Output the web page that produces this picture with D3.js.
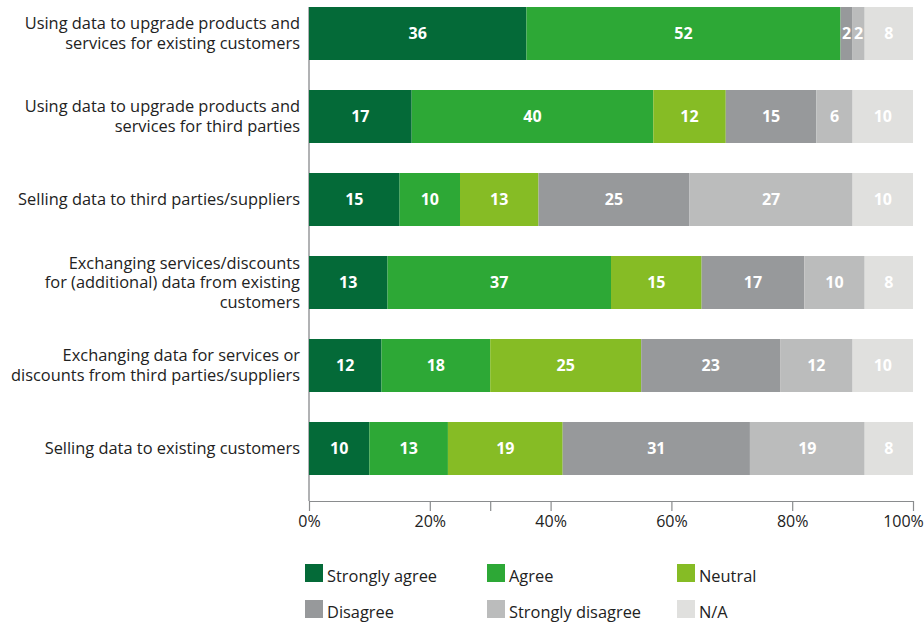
<!DOCTYPE html>
<html>
<head>
<meta charset="utf-8">
<script src="https://cdn.jsdelivr.net/npm/d3@7"></script>
<style>
  html, body { margin: 0; padding: 0; background: #fff; }
  svg { display: block; font-family: "Open Sans", "Noto Sans", sans-serif; }
</style>
</head>
<body>
<svg id="chart" width="924" height="623"></svg>
<script>
// Survey statements (one bar each), wrapped into display lines
const categories = [
  ["Using data to upgrade products and", "services for existing customers"],
  ["Using data to upgrade products and", "services for third parties"],
  ["Selling data to third parties/suppliers"],
  ["Exchanging services/discounts", "for (additional) data from existing", "customers"],
  ["Exchanging data for services or", "discounts from third parties/suppliers"],
  ["Selling data to existing customers"]
];

// Response shares in percent, one array per answer option (same order as categories)
const stronglyAgree    = [36, 17, 15, 13, 12, 10];
const agree            = [52, 40, 10, 37, 18, 13];
const neutral          = [ 0, 12, 13, 15, 25, 19];
const disagree         = [ 2, 15, 25, 17, 23, 31];
const stronglyDisagree = [ 2,  6, 27, 10, 12, 19];
const notApplicable    = [ 8, 10, 10,  8, 10,  8];

const seriesNames = ["Strongly agree", "Agree", "Neutral", "Disagree", "Strongly disagree", "N/A"];
const seriesColors = ["#046a38", "#2da836", "#86bc25", "#97999b", "#bbbcbc", "#e0e0de"];

// Axis ticks; the 30% tick carries no label
const tickValues = [0, 20, 30, 40, 60, 80, 100];
const tickLabels = ["0%", "20%", "", "40%", "60%", "80%", "100%"];

const seriesValues = [stronglyAgree, agree, neutral, disagree, stronglyDisagree, notApplicable];
const rows = categories.map((c, i) => {
  const row = { id: i };
  seriesNames.forEach((s, k) => { row[s] = seriesValues[k][i]; });
  return row;
});

const svg = d3.select("#chart");

const x = d3.scaleLinear().domain([0, 100]).range([309, 913]);
const y = d3.scaleBand()
  .domain(d3.range(categories.length))
  .range([7, 475])
  .paddingInner(30 / 83)
  .paddingOuter(0);

const color = d3.scaleOrdinal().domain(seriesNames).range(seriesColors);

const layers = d3.stack().keys(seriesNames)(rows);

// Vertical baseline at 0%
svg.append("line")
  .attr("x1", x(0)).attr("x2", x(0))
  .attr("y1", 7).attr("y2", 501)
  .attr("stroke", "#97999b").attr("stroke-width", 1.5);

// Stacked bars
const layerG = svg.append("g").selectAll("g")
  .data(layers)
  .join("g")
  .attr("fill", d => color(d.key));

layerG.selectAll("rect")
  .data(d => d.map((v, i) => ({ v, i, key: d.key })))
  .join("rect")
  .attr("x", d => x(d.v[0]))
  .attr("y", d => y(d.i))
  .attr("width", d => x(d.v[1]) - x(d.v[0]))
  .attr("height", y.bandwidth());

// Value labels inside segments
layerG.selectAll("text")
  .data(d => d.map((v, i) => ({ v, i, key: d.key })).filter(d => d.v[1] - d.v[0] > 0))
  .join("text")
  .attr("x", d => (x(d.v[0]) + x(d.v[1])) / 2)
  .attr("y", d => y(d.i) + y.bandwidth() / 2)
  .attr("dy", "0.36em")
  .attr("text-anchor", "middle")
  .attr("fill", "#fff")
  .attr("font-size", 16)
  .attr("font-weight", 700)
  .text(d => d.v[1] - d.v[0]);

// Category labels
const lineH = 19.5;
const labelG = svg.append("g");
categories.forEach((lines, i) => {
  const cy = y(i) + y.bandwidth() / 2;
  const t = labelG.append("text")
    .attr("text-anchor", "end")
    .attr("font-size", 16.4)
    .attr("fill", "#222");
  lines.forEach((ln, j) => {
    t.append("tspan")
      .attr("x", 300)
      .attr("y", cy + (j - (lines.length - 1) / 2) * lineH)
      .attr("dy", "0.35em")
      .text(ln);
  });
});

// X axis
const xAxis = d3.axisBottom(x)
  .tickValues(tickValues)
  .tickFormat((d, i) => tickLabels[i])
  .tickSize(10)
  .tickSizeOuter(0)
  .tickPadding(5);

const axisG = svg.append("g")
  .attr("transform", "translate(0,501)")
  .call(xAxis);
axisG.select(".domain").attr("stroke", "#8a8c8e").attr("stroke-width", 1.2);
axisG.selectAll(".tick line").attr("stroke", "#8a8c8e").attr("stroke-width", 1.2);
axisG.selectAll(".tick text")
  .attr("font-size", 16)
  .attr("font-family", "\"Open Sans\", sans-serif")
  .attr("fill", "#222");
axisG.selectAll(".tick text").filter(d => d === 100).attr("dx", "-10");

// Legend: three columns, two rows
const legendCols = [305, 487, 677];
const legendRows = [564, 600];
const legend = svg.append("g").selectAll("g")
  .data(seriesNames)
  .join("g")
  .attr("transform", (d, i) => `translate(${legendCols[i % 3]},${legendRows[Math.floor(i / 3)]})`);
legend.append("rect")
  .attr("width", 18).attr("height", 18)
  .attr("fill", d => color(d));
legend.append("text")
  .attr("x", 22).attr("y", 12)
  .attr("dy", "0.35em")
  .attr("font-size", 16.4)
  .attr("fill", "#222")
  .text(d => d);
</script>
</body>
</html>
